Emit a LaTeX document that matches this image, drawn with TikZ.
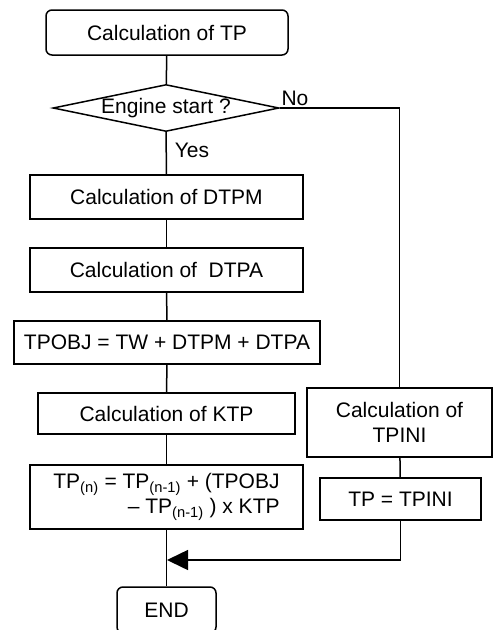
\documentclass[tikz,border=0pt]{standalone}
\usepackage{fontspec}
\setmainfont{Liberation Sans}
\usetikzlibrary{shapes.geometric,arrows.meta}
\begin{document}
\begin{tikzpicture}[x=1pt,y=-1pt,
  txt/.style={font=\fontsize{21}{25}\selectfont},
  box/.style={txt,draw,line width=1.5pt,inner sep=0pt,align=center},
  term/.style={box,rounded corners=6pt},
  dec/.style={txt,draw,line width=1.5pt,shape=diamond,inner sep=0pt,aspect=4.8,minimum width=226pt,minimum height=47pt},
  conn/.style={line width=1.5pt},
  lbl/.style={txt,inner sep=0pt}]
\useasboundingbox (0,0) rectangle (493,630);
\clip (0,0) rectangle (493,630);
\node[term,minimum width=242pt,minimum height=45pt] (start) at (167,32.5) {Calculation of TP};
\node[dec] (eng) at (166,108) {Engine start ?};
\node[box,minimum width=273pt,minimum height=44pt] (dtpm) at (166.5,197) {Calculation of DTPM};
\node[box,minimum width=273pt,minimum height=44pt] (dtpa) at (166.5,270) {Calculation of\ \ DTPA};
\node[box,minimum width=306pt,minimum height=43pt] (tpobj) at (167,342.5) {TPOBJ = TW + DTPM + DTPA};
\node[box,minimum width=257pt,minimum height=41pt] (ktp) at (166.5,413.5) {Calculation of KTP};
\node[box,align=right,minimum width=273pt,minimum height=64pt] (tpn) at (166.5,497)
  {TP\textsubscript{(n)} = TP\textsubscript{(n-1)} + (TPOBJ\\– TP\textsubscript{(n-1)} ) x KTP};
\node[box,minimum width=185pt,minimum height=69pt] (tpini) at (399.5,422.5) {Calculation of\\TPINI};
\node[box,minimum width=161pt,minimum height=42pt] (tpeq) at (400.5,499) {TP = TPINI};
\node[term,minimum width=99pt,minimum height=46pt] (end) at (166.5,610) {END};
\node[lbl] (no) at (295,98) {No};
\node[lbl] (yes) at (192,150) {Yes};
\coordinate (j) at (167,560);
\draw[conn] (start) -- (eng);
\draw[conn] (eng) -- (dtpm);
\draw[conn] (dtpm) -- (dtpa);
\draw[conn] (dtpa) -- (tpobj);
\draw[conn] (tpobj) -- (ktp);
\draw[conn] (ktp) -- (tpn);
\draw[conn] (tpn) -- (end);
\draw[conn] (eng.east) -| (tpini.north);
\draw[conn] (tpini) -- (tpeq);
\draw[conn,-{Triangle[length=21pt,width=20pt]}] (tpeq.south) |- (j);
\end{tikzpicture}
\end{document}
